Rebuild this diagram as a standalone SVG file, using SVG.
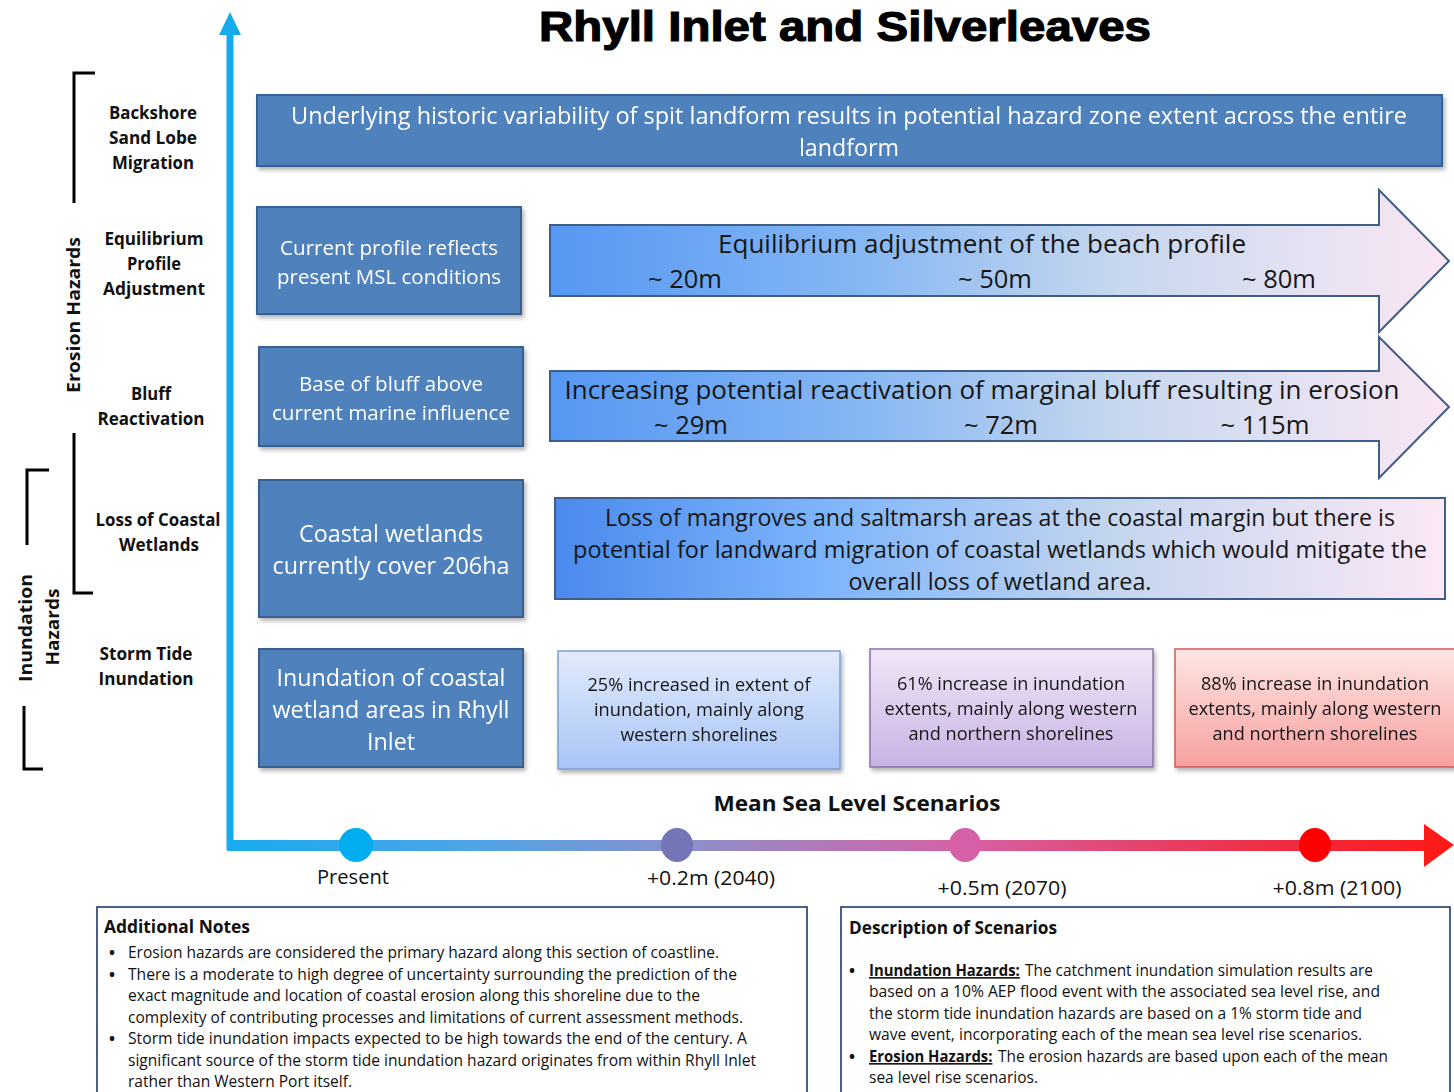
<svg xmlns="http://www.w3.org/2000/svg" width="1454" height="1092" viewBox="0 0 1454 1092">
  <defs>
    <linearGradient id="gArrow" x1="0" y1="0" x2="1" y2="0">
      <stop offset="0" stop-color="#5597f3"/>
      <stop offset="0.35" stop-color="#86b7f3"/>
      <stop offset="0.62" stop-color="#c4d6ee"/>
      <stop offset="0.85" stop-color="#e6e2f3"/>
      <stop offset="1" stop-color="#fae6f4"/>
    </linearGradient>
    <linearGradient id="gWet" x1="0" y1="0" x2="1" y2="0">
      <stop offset="0" stop-color="#4a8aee"/>
      <stop offset="0.3" stop-color="#7db4fb"/>
      <stop offset="0.62" stop-color="#c2d5ee"/>
      <stop offset="1" stop-color="#fce8f6"/>
    </linearGradient>
    <linearGradient id="gA" x1="0" y1="0" x2="0" y2="1">
      <stop offset="0" stop-color="#e2ebfc"/>
      <stop offset="1" stop-color="#a8c4f6"/>
    </linearGradient>
    <linearGradient id="gB" x1="0" y1="0" x2="0" y2="1">
      <stop offset="0" stop-color="#f1e6f7"/>
      <stop offset="1" stop-color="#c8b3e4"/>
    </linearGradient>
    <linearGradient id="gC" x1="0" y1="0" x2="0" y2="1">
      <stop offset="0" stop-color="#fde6e3"/>
      <stop offset="1" stop-color="#f7a0a0"/>
    </linearGradient>
    <linearGradient id="gAxis" gradientUnits="userSpaceOnUse" x1="230" y1="0" x2="1454" y2="0">
      <stop offset="0" stop-color="#18abee"/>
      <stop offset="0.2" stop-color="#4ea4e6"/>
      <stop offset="0.37" stop-color="#8b90cc"/>
      <stop offset="0.6" stop-color="#d661a3"/>
      <stop offset="0.88" stop-color="#f2283a"/>
      <stop offset="1" stop-color="#ff1a1a"/>
    </linearGradient>
    <filter id="shadow" x="-5%" y="-5%" width="112%" height="120%">
      <feDropShadow dx="2" dy="3" stdDeviation="2" flood-color="#000" flood-opacity="0.3"/>
    </filter>
  </defs>
  <style>
    .lbl { font-family: "Open Sans", "Liberation Sans", sans-serif; font-weight: bold; font-size: 18px; fill: #111; text-anchor: middle; }
    .blue { fill: #4f81bd; stroke: #395f8f; stroke-width: 2; }
    .wt { font-family: "Open Sans", "Liberation Sans", sans-serif; fill: #fff; text-anchor: middle; }
    .dk { font-family: "Open Sans", "Liberation Sans", sans-serif; fill: #161616; text-anchor: middle; }
    .grad { fill: url(#gArrow); stroke: #3e5e86; stroke-width: 2; }
    .brk { fill: none; stroke: #000; stroke-width: 3; }
    .note { font-family: "Open Sans", "Liberation Sans", sans-serif; font-size: 16px; fill: #111; }
    .key { font-weight: bold; text-decoration: underline; }
    .hd { font-family: "Open Sans", "Liberation Sans", sans-serif; font-size: 18px; font-weight: bold; fill: #111; }
    .panel { fill: #fff; stroke: #1f3a64; stroke-width: 1.6; }
    .tick { font-family: "Open Sans", "Liberation Sans", sans-serif; font-size: 20px; fill: #111; text-anchor: middle; }
  </style>

  <rect width="1454" height="1092" fill="#fff"/>

  <!-- title -->
  <text x="845" y="41" font-family="Liberation Sans, Arial, sans-serif" font-weight="bold" font-size="42" text-anchor="middle" textLength="612" lengthAdjust="spacingAndGlyphs" fill="#000" stroke="#000" stroke-width="1.2">Rhyll Inlet and Silverleaves</text>

  <!-- axes -->
  <g id="axes">
    <line x1="230" y1="30" x2="230" y2="850" stroke="#16a9ec" stroke-width="7"/>
    <polygon points="219,35 230,12 241,35" fill="#16a9ec"/>
    <rect x="227" y="840" width="1199" height="11" fill="url(#gAxis)"/>
    <polygon points="1424,824 1454,845 1424,867" fill="#ff1a1a"/>
    <ellipse cx="356" cy="845" rx="17" ry="17" fill="#00adef"/>
    <ellipse cx="677" cy="845" rx="16" ry="17" fill="#7475b6"/>
    <ellipse cx="965" cy="845" rx="16" ry="17" fill="#d660a8"/>
    <ellipse cx="1315" cy="845" rx="16" ry="17" fill="#ff0000"/>
    <text class="tick" x="353" y="884" textLength="72" lengthAdjust="spacingAndGlyphs">Present</text>
    <text class="tick" x="711" y="885" textLength="128" lengthAdjust="spacingAndGlyphs">+0.2m (2040)</text>
    <text class="tick" x="1002" y="895" textLength="129" lengthAdjust="spacingAndGlyphs">+0.5m (2070)</text>
    <text class="tick" x="1337" y="895" textLength="129" lengthAdjust="spacingAndGlyphs">+0.8m (2100)</text>
    <text x="857" y="811" font-family="Open Sans, Liberation Sans, sans-serif" font-weight="bold" font-size="22" text-anchor="middle" textLength="287" lengthAdjust="spacingAndGlyphs" fill="#111">Mean Sea Level Scenarios</text>
  </g>

  <!-- hazard group brackets and labels -->
  <g id="hazard-groups">
    <polyline class="brk" points="95,73 74,73 74,203"/>
    <polyline class="brk" points="74,433 74,593 93,593"/>
    <text class="lbl" transform="translate(80,315) rotate(-90)" font-size="20" textLength="156" lengthAdjust="spacingAndGlyphs">Erosion Hazards</text>
    <polyline class="brk" points="49,470 27,470 27,545"/>
    <polyline class="brk" points="24,706 24,769 43,769"/>
    <text class="lbl" transform="translate(32,628) rotate(-90)" font-size="20" textLength="108" lengthAdjust="spacingAndGlyphs">Inundation</text>
    <text class="lbl" transform="translate(59,627) rotate(-90)" font-size="20" textLength="77" lengthAdjust="spacingAndGlyphs">Hazards</text>
  </g>

  <!-- row labels -->
  <g id="row-labels">
    <text class="lbl" x="153" y="119" textLength="88" lengthAdjust="spacingAndGlyphs">Backshore</text>
    <text class="lbl" x="153" y="144" textLength="88" lengthAdjust="spacingAndGlyphs">Sand Lobe</text>
    <text class="lbl" x="153" y="169" textLength="82" lengthAdjust="spacingAndGlyphs">Migration</text>
    <text class="lbl" x="154" y="245" textLength="99" lengthAdjust="spacingAndGlyphs">Equilibrium</text>
    <text class="lbl" x="154" y="270" textLength="54" lengthAdjust="spacingAndGlyphs">Profile</text>
    <text class="lbl" x="154" y="295" textLength="102" lengthAdjust="spacingAndGlyphs">Adjustment</text>
    <text class="lbl" x="151" y="400" textLength="40" lengthAdjust="spacingAndGlyphs">Bluff</text>
    <text class="lbl" x="151" y="425" textLength="107" lengthAdjust="spacingAndGlyphs">Reactivation</text>
    <text class="lbl" x="158" y="526" textLength="125" lengthAdjust="spacingAndGlyphs">Loss of Coastal</text>
    <text class="lbl" x="159" y="551" textLength="80" lengthAdjust="spacingAndGlyphs">Wetlands</text>
    <text class="lbl" x="146" y="660" textLength="93" lengthAdjust="spacingAndGlyphs">Storm Tide</text>
    <text class="lbl" x="146" y="685" textLength="95" lengthAdjust="spacingAndGlyphs">Inundation</text>
  </g>

  <!-- backshore row -->
  <g id="node-backshore" filter="url(#shadow)">
    <rect class="blue" x="257" y="95" width="1185" height="71"/>
    <text class="wt" x="849" y="124" font-size="24" textLength="1116" lengthAdjust="spacingAndGlyphs">Underlying historic variability of spit landform results in potential hazard zone extent  across the entire</text>
    <text class="wt" x="849" y="156" font-size="24" textLength="100" lengthAdjust="spacingAndGlyphs">landform</text>
  </g>

  <!-- equilibrium profile row -->
  <g id="node-profile-present" filter="url(#shadow)">
    <rect class="blue" x="257" y="207" width="264" height="107"/>
    <text class="wt" x="389" y="255" font-size="20" textLength="218" lengthAdjust="spacingAndGlyphs">Current profile reflects</text>
    <text class="wt" x="389" y="284" font-size="20" textLength="224" lengthAdjust="spacingAndGlyphs">present MSL conditions</text>
  </g>
  <g id="node-profile-future">
    <polygon class="grad" points="550,225 1379,225 1379,190 1449,261 1379,332 1379,296 550,296"/>
    <text class="dk" x="982" y="253" font-size="26" textLength="528" lengthAdjust="spacingAndGlyphs">Equilibrium adjustment of the beach profile</text>
    <text class="dk" x="685" y="288" font-size="26" textLength="74" lengthAdjust="spacingAndGlyphs">~ 20m</text>
    <text class="dk" x="995" y="288" font-size="26" textLength="74" lengthAdjust="spacingAndGlyphs">~ 50m</text>
    <text class="dk" x="1279" y="288" font-size="26" textLength="74" lengthAdjust="spacingAndGlyphs">~ 80m</text>
  </g>

  <!-- bluff reactivation row -->
  <g id="node-bluff-present" filter="url(#shadow)">
    <rect class="blue" x="259" y="347" width="264" height="99"/>
    <text class="wt" x="391" y="391" font-size="20" textLength="184" lengthAdjust="spacingAndGlyphs">Base of bluff above</text>
    <text class="wt" x="391" y="420" font-size="20" textLength="238" lengthAdjust="spacingAndGlyphs">current marine influence</text>
  </g>
  <g id="node-bluff-future">
    <polygon class="grad" points="550,371 1379,371 1379,337 1449,407 1379,478 1379,441 550,441"/>
    <text class="dk" x="982" y="399" font-size="26" textLength="835" lengthAdjust="spacingAndGlyphs">Increasing potential reactivation of marginal bluff resulting in erosion</text>
    <text class="dk" x="691" y="434" font-size="26" textLength="74" lengthAdjust="spacingAndGlyphs">~ 29m</text>
    <text class="dk" x="1001" y="434" font-size="26" textLength="74" lengthAdjust="spacingAndGlyphs">~ 72m</text>
    <text class="dk" x="1265" y="434" font-size="26" textLength="89" lengthAdjust="spacingAndGlyphs">~ 115m</text>
  </g>

  <!-- coastal wetlands row -->
  <g id="node-wetlands-present" filter="url(#shadow)">
    <rect class="blue" x="259" y="480" width="264" height="137"/>
    <text class="wt" x="391" y="542" font-size="24" textLength="184" lengthAdjust="spacingAndGlyphs">Coastal wetlands</text>
    <text class="wt" x="391" y="574" font-size="24" textLength="237" lengthAdjust="spacingAndGlyphs">currently cover 206ha</text>
  </g>
  <g id="node-wetlands-future">
    <rect x="555" y="498" width="890" height="101" fill="url(#gWet)" stroke="#3e5e86" stroke-width="2"/>
    <text class="dk" x="1000" y="526" font-size="24" textLength="790" lengthAdjust="spacingAndGlyphs">Loss of mangroves and saltmarsh areas at the coastal margin but there is</text>
    <text class="dk" x="1000" y="558" font-size="24" textLength="854" lengthAdjust="spacingAndGlyphs">potential for landward migration of coastal wetlands which would mitigate the</text>
    <text class="dk" x="1000" y="590" font-size="24" textLength="303" lengthAdjust="spacingAndGlyphs">overall loss of wetland area.</text>
  </g>

  <!-- storm tide row -->
  <g id="node-storm-present" filter="url(#shadow)">
    <rect class="blue" x="259" y="649" width="264" height="118"/>
    <text class="wt" x="391" y="686" font-size="24" textLength="229" lengthAdjust="spacingAndGlyphs">Inundation of coastal</text>
    <text class="wt" x="391" y="718" font-size="24" textLength="237" lengthAdjust="spacingAndGlyphs">wetland areas in Rhyll</text>
    <text class="wt" x="391" y="750" font-size="24" textLength="48" lengthAdjust="spacingAndGlyphs">Inlet</text>
  </g>
  <g id="node-storm-2040" filter="url(#shadow)">
    <rect x="558" y="651" width="282" height="118" fill="url(#gA)" stroke="#7b9fcf" stroke-width="1.5"/>
    <text class="dk" x="699" y="691" font-size="19" textLength="223" lengthAdjust="spacingAndGlyphs">25% increased in extent of</text>
    <text class="dk" x="699" y="716" font-size="19" textLength="210" lengthAdjust="spacingAndGlyphs">inundation, mainly along</text>
    <text class="dk" x="699" y="741" font-size="19" textLength="157" lengthAdjust="spacingAndGlyphs">western shorelines</text>
  </g>
  <g id="node-storm-2070" filter="url(#shadow)">
    <rect x="870" y="649" width="283" height="118" fill="url(#gB)" stroke="#8a70a8" stroke-width="1.5"/>
    <text class="dk" x="1011" y="690" font-size="19" textLength="228" lengthAdjust="spacingAndGlyphs">61% increase in inundation</text>
    <text class="dk" x="1011" y="715" font-size="19" textLength="253" lengthAdjust="spacingAndGlyphs">extents, mainly along western</text>
    <text class="dk" x="1011" y="740" font-size="19" textLength="205" lengthAdjust="spacingAndGlyphs">and northern shorelines</text>
  </g>
  <g id="node-storm-2100" filter="url(#shadow)">
    <rect x="1175" y="649" width="290" height="118" fill="url(#gC)" stroke="#d45a5a" stroke-width="1.5"/>
    <text class="dk" x="1315" y="690" font-size="19" textLength="228" lengthAdjust="spacingAndGlyphs">88% increase in inundation</text>
    <text class="dk" x="1315" y="715" font-size="19" textLength="253" lengthAdjust="spacingAndGlyphs">extents, mainly along western</text>
    <text class="dk" x="1315" y="740" font-size="19" textLength="205" lengthAdjust="spacingAndGlyphs">and northern shorelines</text>
  </g>

  <!-- additional notes panel -->
  <g id="node-notes">
    <rect class="panel" x="97" y="907" width="710" height="195"/>
    <text class="hd" x="104" y="933" textLength="146" lengthAdjust="spacingAndGlyphs">Additional Notes</text>
    <g class="note">
      <text x="109" y="958" font-weight="bold">•</text>
      <text x="128" y="958" textLength="591" lengthAdjust="spacingAndGlyphs">Erosion hazards are considered the primary hazard along this section of coastline.</text>
      <text x="109" y="980" font-weight="bold">•</text>
      <text x="128" y="980" textLength="609" lengthAdjust="spacingAndGlyphs">There is a moderate to high degree of uncertainty surrounding the  prediction of the</text>
      <text x="128" y="1001" textLength="572" lengthAdjust="spacingAndGlyphs">exact magnitude and location of coastal erosion along this shoreline due to the</text>
      <text x="128" y="1023" textLength="615" lengthAdjust="spacingAndGlyphs">complexity of contributing processes and limitations of current assessment methods.</text>
      <text x="109" y="1044" font-weight="bold">•</text>
      <text x="128" y="1044" textLength="619" lengthAdjust="spacingAndGlyphs">Storm tide inundation impacts  expected to be high towards the end of the century. A</text>
      <text x="128" y="1066" textLength="628" lengthAdjust="spacingAndGlyphs">significant source of the storm tide inundation hazard originates from within Rhyll Inlet</text>
      <text x="128" y="1087" textLength="224" lengthAdjust="spacingAndGlyphs">rather than Western Port itself.</text>
    </g>
  </g>

  <!-- scenario description panel -->
  <g id="node-scenarios">
    <rect class="panel" x="841" y="907" width="609" height="195"/>
    <text class="hd" x="849" y="934" textLength="208" lengthAdjust="spacingAndGlyphs">Description of Scenarios</text>
    <g class="note">
      <text x="849" y="976" font-weight="bold">•</text>
      <text class="key" transform="translate(869 976) scale(0.93 1)">Inundation  Hazards:</text>
      <text x="1025" y="976" textLength="348" lengthAdjust="spacingAndGlyphs">The catchment inundation simulation results are</text>
      <text x="869" y="997" textLength="511" lengthAdjust="spacingAndGlyphs">based on a 10% AEP flood event with the associated sea level rise, and</text>
      <text x="869" y="1019" textLength="493" lengthAdjust="spacingAndGlyphs">the storm tide inundation hazards are based on a 1% storm tide and</text>
      <text x="869" y="1040" textLength="493" lengthAdjust="spacingAndGlyphs">wave event, incorporating each of the mean sea level rise scenarios.</text>
      <text x="849" y="1062" font-weight="bold">•</text>
      <text class="key" transform="translate(869 1062) scale(0.93 1)">Erosion Hazards:</text>
      <text x="998" y="1062" textLength="390" lengthAdjust="spacingAndGlyphs">The erosion hazards are based upon each of the mean</text>
      <text x="869" y="1083" textLength="169" lengthAdjust="spacingAndGlyphs">sea level rise scenarios.</text>
    </g>
  </g>
</svg>
